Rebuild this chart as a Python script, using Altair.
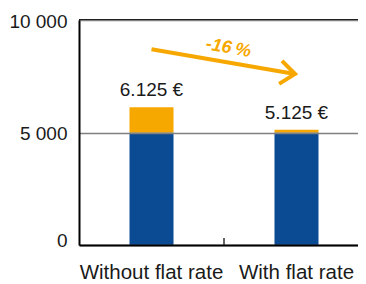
import altair as alt
import pandas as pd

categories = ["Without flat rate", "With flat rate"]
base_values = [5000, 5000]
totals = [6125, 5125]
value_labels = ["6.125 €", "5.125 €"]
y_ticks = [0, 5000, 10000]

# annotation positions (x in band units: 0..2, y in data units)
arrow_x = [0.5, 1.49]
arrow_y = [8700, 7600]
head_x = [1.40, 1.49, 1.38]
head_y = [8180, 7600, 7160]
pct_label = ["-16\u202f%"]
pct_x = [1.03]
pct_y = [8750]
divider_x = [1.0]

W, H = 279, 225
RANGE = [0, 290]
BLUE = "#0b4b93"
ORANGE = "#f7a800"
FONT = "Liberation Sans"
TXT = "#1a1a1a"

bars_df = pd.DataFrame({"cat": categories, "base": base_values,
                        "total": totals, "label": value_labels})

xscale = alt.Scale(domain=categories, range=RANGE, paddingInner=0, paddingOuter=0)
yscale = alt.Scale(domain=[0, 10000], nice=False)
yaxis = alt.Axis(values=y_ticks, grid=True, gridColor="#808080", gridWidth=1.5,
                 ticks=False, domainColor="black", domainWidth=2, labelPadding=12,
                 labelFontSize=19, labelFont=FONT, labelColor=TXT, zindex=1,
                 labelExpr="replace(format(datum.value, ','), ',', ' ')",
                 labelOffset={"condition": {"test": "datum.value == 0", "value": -5}, "value": 1})

xenc = alt.X("cat:N", scale=xscale, sort=categories, title=None,
             axis=alt.Axis(labelAngle=0, ticks=False, domainColor="black", domainWidth=2,
                           labelPadding=17, labelFontSize=20.5, labelFont=FONT,
                           labelColor=TXT, grid=False, zindex=1))

base = alt.Chart(bars_df)
blue = base.mark_bar(size=44, color=BLUE).encode(
    x=xenc, y=alt.Y("base:Q", scale=yscale, axis=yaxis, title=None))
orange = base.mark_bar(size=44, color=ORANGE).encode(
    x=xenc, y=alt.Y("base:Q", scale=yscale, axis=yaxis, title=None), y2="total:Q")
labels = base.mark_text(fontSize=19, font=FONT, color=TXT, baseline="alphabetic", dy=-11).encode(
    x=xenc, y=alt.Y("total:Q", scale=yscale, axis=yaxis, title=None), text="label:N")
bar_layer = alt.layer(blue, orange, labels)

qx = alt.Scale(domain=[0, 2], range=RANGE, nice=False, zero=False)

arrow_df = pd.DataFrame({"x": arrow_x, "y": arrow_y})
head_df = pd.DataFrame({"x": head_x, "y": head_y, "i": list(range(len(head_x)))})
pct_df = pd.DataFrame({"x": pct_x, "y": pct_y, "t": pct_label})
div_df = pd.DataFrame({"x": divider_x})

arrow = alt.Chart(arrow_df).mark_line(color=ORANGE, strokeWidth=4).encode(
    x=alt.X("x:Q", scale=qx, axis=None),
    y=alt.Y("y:Q", scale=yscale, axis=yaxis, title=None))
head = alt.Chart(head_df).mark_line(color=ORANGE, strokeWidth=4, strokeJoin="miter").encode(
    x=alt.X("x:Q", scale=qx, axis=None),
    y=alt.Y("y:Q", scale=yscale, axis=yaxis, title=None),
    order="i:Q")
pct = alt.Chart(pct_df).mark_text(color=ORANGE, fontSize=18, font=FONT, fontWeight="bold",
                                  fontStyle="italic", angle=10).encode(
    x=alt.X("x:Q", scale=qx, axis=None),
    y=alt.Y("y:Q", scale=yscale, axis=yaxis, title=None),
    text="t:N")
divider = alt.Chart(div_df).mark_rule(color="#333333", strokeWidth=1.5).encode(
    x=alt.X("x:Q", scale=qx, axis=None),
    y=alt.value(H), y2=alt.value(H - 7))
top = alt.Chart(div_df).mark_rule(color="black", strokeWidth=2).encode(
    x=alt.value(0), x2=alt.value(W), y=alt.value(0))
ann_layer = alt.layer(arrow, head, pct, divider, top)

chart = alt.layer(bar_layer, ann_layer).resolve_scale(x="independent").properties(
    width=W, height=H, autosize="none",
    padding={"left": 71, "top": 12, "right": 0, "bottom": 36},
).configure_view(stroke=None).configure(background="white")

chart.save("out.html", embed_options={"renderer": "svg", "actions": False})
